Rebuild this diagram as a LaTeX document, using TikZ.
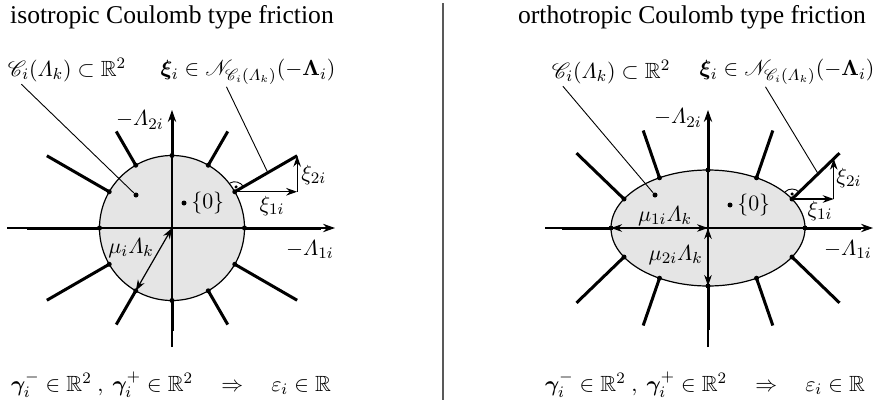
\documentclass[tikz,border=0pt]{standalone}
\usepackage{amsmath,amssymb}
\usepackage[no-math]{fontspec}
\setmainfont{Liberation Serif}
\IfFileExists{mathrsfs.sty}{\usepackage{mathrsfs}}{\let\mathscr\mathcal}
\usepackage{bm}
\usetikzlibrary{arrows.meta, calc, positioning}
\tikzset{
  %% thick ray of the normal cone
  ray/.style={line width=1.5pt},
  %% coordinate axis
  axis/.style={-{Stealth[length=6pt,width=4.2pt]}, line width=0.6pt},
  %% double arrow (radius)
  darr/.style={{Stealth[length=5.5pt,width=3.8pt]}-{Stealth[length=5.5pt,width=3.8pt]},
               line width=0.6pt},
  %% component arrow
  carr/.style={-{Stealth[length=5.5pt,width=3.8pt]}, line width=0.6pt},
  %% point marker
  dot/.style={circle, fill=black, inner sep=0pt, minimum size=2.5pt},
  %% leader line
  lead/.style={line width=0.45pt},
  lbl/.style={font=\fontsize{11}{13}\selectfont, inner sep=1pt},
  ttl/.style={font=\fontsize{12.8}{15}\selectfont, inner sep=1pt},
}

\begin{document}
\begin{tikzpicture}[x=0.5pt, y=0.5pt]
  \useasboundingbox (0,0) rectangle (881,-402);

  %% ---------- isotropic ----------
  \node[ttl] (lt) at (172,-17) {isotropic Coulomb type friction};

  \coordinate (Lc) at (172,-228);
  \coordinate (lx0) at (7,-228);
  \coordinate (lx1) at (335,-228);
  \coordinate (ly0) at (172,-347);
  \coordinate (ly1) at (172,-110);

  \fill[black!10] (Lc) circle (72.5);
  \draw[axis] (lx0) -- (lx1);
  \draw[axis] (ly0) -- (ly1);
  \draw[line width=0.6pt] (Lc) circle (72.5);

  \foreach \a/\l in {0/76,30/72,60/39,90/38,120/39,150/72,
                     180/73,210/72,240/39,270/30,300/39,330/72}{
    \coordinate (lp\a) at ($(Lc)+(\a:72.5)$);
    \draw[ray] (lp\a) -- ++(\a:\l);
    \node[dot] (ld\a) at (lp\a) {};
  }

  % right angle and components of xi
  \draw[lead] ($(lp30)+(30:10)$) arc[start angle=30, end angle=120, radius=10];
  \node[dot, minimum size=1.7pt] (lra) at ($(lp30)+(75:5)$) {};
  \coordinate (lq) at ($(lp30)+(30:72)$);
  \coordinate (lh) at (lq |- lp30);
  \draw[carr] (lp30) -- (lh);
  \draw[carr] (lh) -- (lq);
  \node[lbl] (lx1i) at (272,-206) {$\xi_{1i}$};
  \node[lbl, anchor=west] (lx2i) at (299,-175) {$\xi_{2i}$};

  \node[dot] (l0) at (184,-203) {};
  \node[lbl, right=1pt of l0] (l0t) {$\{0\}$};

  \draw[darr] (Lc) -- (lp240);
  \node[lbl] (lmu) at (131,-248) {$\mu_i\varLambda_k$};

  \node[lbl, anchor=east] (lL2) at (166,-120) {$-\varLambda_{2i}$};
  \node[lbl, anchor=north east] (lL1) at (336,-238) {$-\varLambda_{1i}$};

  % leaders
  \node[lbl] (lC) at (67,-70) {$\mathscr{C}_i(\varLambda_k)\subset\mathbb{R}^2$};
  \node[dot] (lcd) at (136,-195) {};
  \draw[lead] ($(lC.south west)!0.13!(lC.south east)$) -- (lcd);
  \node[lbl] (lN) at (248,-72)
       {$\bm{\xi}_i\in\mathscr{N}_{\mathscr{C}_i(\varLambda_k)}(-\bm{\Lambda}_i)$};
  \coordinate (lnr) at ($(lp30)!0.53!(lq)$);
  \draw[lead] ($(lN.south west)!0.38!(lN.south east)$) -- (lnr);

  \node[lbl] (lf) at (171,-385)
       {$\bm{\gamma}_i^-\in\mathbb{R}^2\ ,\ \bm{\gamma}_i^+\in\mathbb{R}^2
         \quad\Rightarrow\quad \varepsilon_i\in\mathbb{R}$};

  %% ---------- separator ----------
  \coordinate (s0) at (443,-3);
  \coordinate (s1) at (443,-400);
  \draw[black!65, line width=0.65pt] (s0) -- (s1);

  %% ---------- orthotropic ----------
  \node[ttl] (rt) at (692,-17) {orthotropic Coulomb type friction};

  \coordinate (Rc) at (708,-228);
  \coordinate (rx0) at (545,-228);
  \coordinate (rx1) at (873,-228);
  \coordinate (ry0) at (708,-347);
  \coordinate (ry1) at (708,-110);

  \fill[black!10] (Rc) ellipse[x radius=97, y radius=58];
  \draw[axis] (rx0) -- (rx1);
  \draw[axis] (ry0) -- (ry1);
  \draw[line width=0.6pt] (Rc) ellipse[x radius=97, y radius=58];

  \foreach \t/\l in {0/56,30/66,60/50,90/52,120/50,150/66,
                     180/49,210/66,240/50,270/44,300/50,330/66}{
    \pgfmathsetmacro\na{atan2(97*sin(\t),58*cos(\t))}
    \coordinate (rp\t) at ($(Rc)+({97*cos(\t)},{58*sin(\t)})$);
    \draw[ray] (rp\t) -- ++(\na:\l);
    \node[dot] (rd\t) at (rp\t) {};
  }

  \pgfmathsetmacro\rn{atan2(97*sin(30),58*cos(30))}
  \draw[lead] ($(rp30)+(\rn:10)$) arc[start angle=\rn, delta angle=90, radius=10];
  \node[dot, minimum size=1.7pt] (rra) at ($(rp30)+(\rn+45:5)$) {};
  \coordinate (rq) at ($(rp30)+(\rn:58)$);
  \coordinate (rqq) at ($(rp30)+(\rn:66)$);
  \coordinate (rh) at (rq |- rp30);
  \draw[carr] (rp30) -- (rh);
  \draw[carr] (rh) -- (rq);
  \node[lbl] (rx1i) at (820,-211) {$\xi_{1i}$};
  \node[lbl, anchor=west] (rx2i) at (834,-178) {$\xi_{2i}$};

  \node[dot] (r0) at (730,-205) {};
  \node[lbl, right=1pt of r0] (r0t) {$\{0\}$};

  \draw[darr] (rp180) -- (Rc);
  \node[lbl] (rmu1) at (665,-216) {$\mu_{1i}\varLambda_k$};
  \draw[darr] (Rc) -- (rp270);
  \node[lbl, anchor=east] (rmu2) at (705,-255) {$\mu_{2i}\varLambda_k$};

  \node[lbl, anchor=east] (rL2) at (704,-118) {$-\varLambda_{2i}$};
  \node[lbl, anchor=north east] (rL1) at (874,-238) {$-\varLambda_{1i}$};

  % leaders
  \node[lbl] (rC) at (611,-72) {$\mathscr{C}_i(\varLambda_k)\subset\mathbb{R}^2$};
  \node[dot] (rcd) at (655,-195) {};
  \draw[lead] ($(rC.south west)!0.11!(rC.south east)$) -- (rcd);
  \node[lbl] (rN) at (787,-72)
       {$\bm{\xi}_i\in\mathscr{N}_{\mathscr{C}_i(\varLambda_k)}(-\bm{\Lambda}_i)$};
  \coordinate (rnr) at ($(rp30)!0.55!(rqq)$);
  \draw[lead] ($(rN.south west)!0.38!(rN.south east)$) -- (rnr);

  \node[lbl] (rf) at (705,-385)
       {$\bm{\gamma}_i^-\in\mathbb{R}^2\ ,\ \bm{\gamma}_i^+\in\mathbb{R}^2
         \quad\Rightarrow\quad \varepsilon_i\in\mathbb{R}$};
\end{tikzpicture}
\end{document}
